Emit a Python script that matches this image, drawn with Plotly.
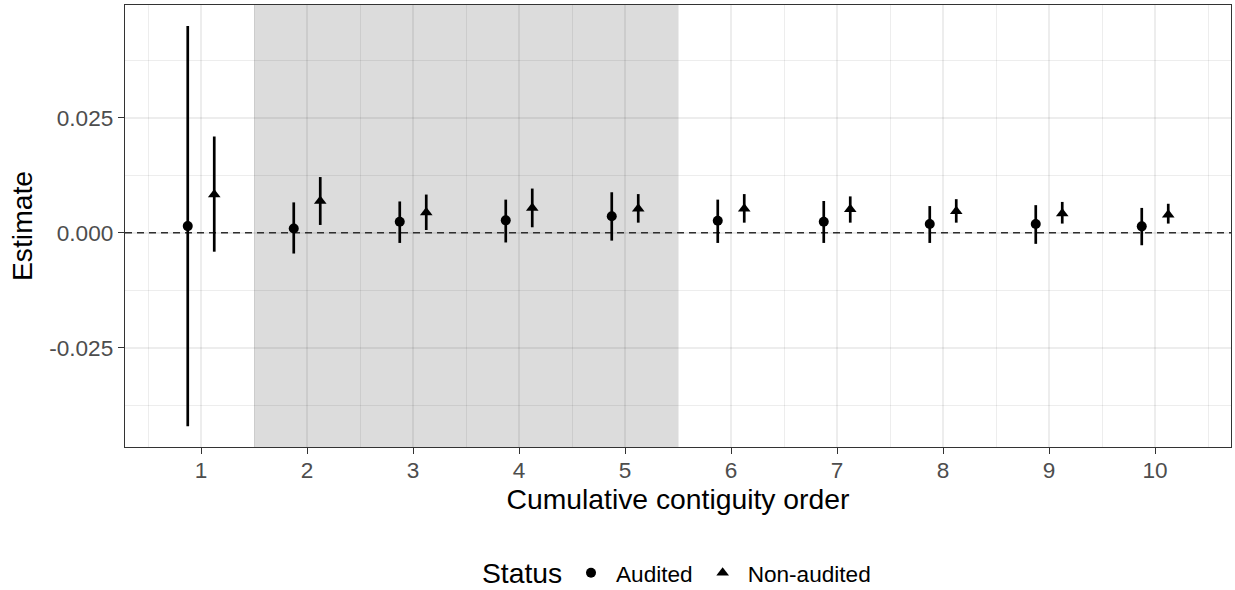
import plotly.graph_objects as go

order = [1, 2, 3, 4, 5, 6, 7, 8, 9, 10]
tick_labels = ["1", "2", "3", "4", "5", "6", "7", "8", "9", "10"]

audited_est = [0.00145, 0.00095, 0.0024, 0.0027, 0.0036, 0.0026, 0.0024, 0.0019, 0.0019, 0.0014]
audited_lo = [-0.0420, -0.0045, -0.0022, -0.0021, -0.0017, -0.0022, -0.0022, -0.0022, -0.0024, -0.0027]
audited_hi = [0.0449, 0.0066, 0.0068, 0.0072, 0.0088, 0.0072, 0.0069, 0.0058, 0.0060, 0.0054]

non_est = [0.0083, 0.0069, 0.0044, 0.0054, 0.0052, 0.0052, 0.0051, 0.0047, 0.0042, 0.0039]
non_lo = [-0.0041, 0.0017, 0.0006, 0.0012, 0.0022, 0.0022, 0.0022, 0.0022, 0.0020, 0.0020]
non_hi = [0.0209, 0.0121, 0.0083, 0.0096, 0.0084, 0.0084, 0.0079, 0.0073, 0.0067, 0.0063]

shade_range = [1.5, 5.5]

DODGE = 0.125
FONT = "Liberation Sans, Arial, sans-serif"
GRID = "rgba(0,0,0,0.07)"

def err(est, lo, hi):
    return dict(
        type="data",
        symmetric=False,
        array=[h - e for e, h in zip(est, hi)],
        arrayminus=[e - l for e, l in zip(est, lo)],
        color="black",
        thickness=2.7,
        width=0,
    )

fig = go.Figure()
fig.add_trace(go.Scatter(
    x=[o - DODGE for o in order], y=audited_est, mode="markers", name="Audited",
    marker=dict(symbol="circle", size=10, color="black"),
    error_y=err(audited_est, audited_lo, audited_hi),
))
fig.add_trace(go.Scatter(
    x=[o + DODGE for o in order], y=non_est, mode="markers", name="Non-audited",
    marker=dict(symbol="triangle-up", size=11, color="black"),
    error_y=err(non_est, non_lo, non_hi),
))

fig.add_shape(type="rect", xref="x", yref="paper", x0=shade_range[0], x1=shade_range[1],
              y0=0, y1=1, fillcolor="#DCDCDC", line=dict(width=0), layer="below")
fig.add_shape(type="line", xref="paper", yref="y", x0=0, x1=1, y0=0, y1=0,
              line=dict(color="#333333", width=1.4, dash="7px,5px"), layer="between")

axis_common = dict(
    showline=True, mirror=True, linecolor="#333333", linewidth=1.4,
    ticks="outside", ticklen=6, tickwidth=1.4, tickcolor="#333333",
    showgrid=True, gridcolor=GRID, gridwidth=2.2,
    zeroline=False,
    tickfont=dict(family=FONT, size=22.6, color="#4D4D4D"),
)

fig.update_xaxes(
    **axis_common,
    range=[0.283, 10.717],
    tickmode="array", tickvals=order, ticktext=tick_labels,
    ticklabelstandoff=-3,
    minor=dict(tickmode="array", tickvals=[o + 0.5 for o in [0] + order],
               showgrid=True, gridcolor=GRID, gridwidth=1.1, ticklen=0),
    title=dict(text="Cumulative contiguity order", font=dict(family=FONT, size=28.3, color="black"),
               standoff=6),
)
fig.update_yaxes(
    **axis_common,
    range=[-0.04649, 0.04944],
    tickmode="array", tickvals=[-0.025, 0.0, 0.025], ticktext=["-0.025", "0.000", "0.025"],
    minor=dict(tickmode="array", tickvals=[-0.0375, -0.0125, 0.0125, 0.0375],
               showgrid=True, gridcolor=GRID, gridwidth=1.1, ticklen=0),
    title=dict(text="Estimate", font=dict(family=FONT, size=28.3, color="black"), standoff=8),
)

fig.add_annotation(
    text="Status", xref="paper", yref="paper", x=(522 - 125) / 1106, y=(447 - 573) / 442,
    xanchor="center", yanchor="middle", showarrow=False,
    font=dict(family=FONT, size=28.3, color="black"),
)

fig.update_layout(
    width=1235, height=590,
    margin=dict(l=125, r=4, t=5, b=143, autoexpand=False),
    plot_bgcolor="white", paper_bgcolor="white",
    font=dict(family=FONT, color="black"),
    showlegend=True,
    legend=dict(
        orientation="h", x=(566 - 125) / 1106, xanchor="left",
        yref="container", y=(590 - 573) / 590, yanchor="middle",
        font=dict(family=FONT, size=22.6, color="black"),
        itemwidth=40,
        bgcolor="rgba(0,0,0,0)",
    ),
)

fig.write_html("out.html")
